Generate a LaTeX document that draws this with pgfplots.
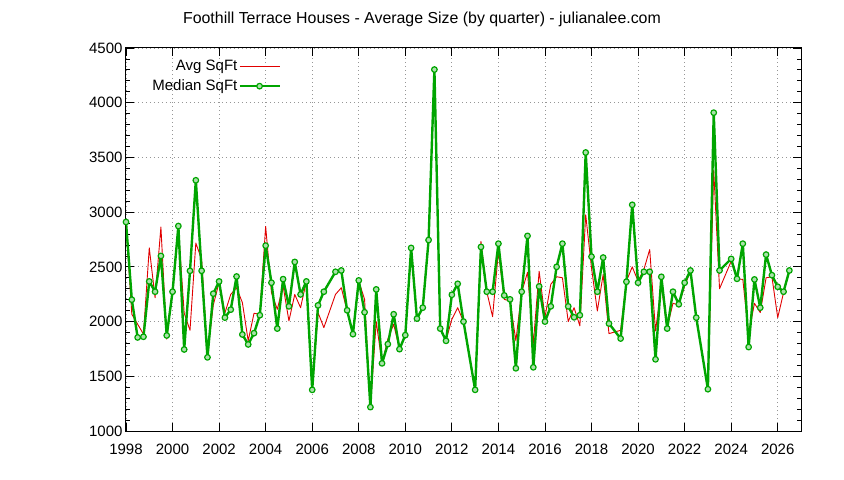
\documentclass[border=0pt]{standalone}
\usepackage{fontspec}
\setmainfont{Liberation Sans}
\usepackage{pgfplots}
\pgfplotsset{compat=1.18}
\usepackage{pgfplotstable}
\definecolor{avgred}{RGB}{225,0,0}
\definecolor{medgreen}{RGB}{0,165,0}
\definecolor{medfill}{RGB}{170,225,170}
\definecolor{gridgray}{RGB}{150,150,150}

\pgfplotstableread{
t avg med
1998.00 2910 2910
1998.25 2067 2200
1998.50 1976 1855
1998.75 1885 1861
1999.00 2673 2367
1999.25 2218 2273
1999.50 2864 2600
1999.75 1840 1873
2000.00 2280 2273
2000.25 2850 2873
2000.50 2078 1745
2000.75 1920 2464
2001.00 2718 3291
2001.25 2567 2464
2001.50 1700 1673
2001.75 2150 2255
2002.00 2360 2367
2002.25 2080 2036
2002.50 2248 2109
2002.75 2309 2412
2003.00 2173 1882
2003.25 1824 1791
2003.50 2076 1894
2003.75 2067 2058
2004.00 2870 2694
2004.25 2264 2355
2004.50 2112 1936
2004.75 2324 2388
2005.00 2006 2139
2005.25 2248 2545
2005.50 2127 2248
2005.75 2370 2367
2006.00 1376 1376
2006.25 2082 2148
2006.50 1945 2273
2007.00 2248 2455
2007.25 2309 2467
2007.50 2097 2103
2007.75 1900 1885
2008.00 2370 2376
2008.25 2203 2085
2008.50 1218 1218
2008.75 2000 2294
2009.00 1618 1618
2009.25 1840 1794
2009.50 1976 2067
2009.75 1748 1748
2010.00 1876 1876
2010.25 2650 2673
2010.50 2027 2027
2010.75 2127 2127
2011.00 2745 2745
2011.25 4303 4303
2011.50 1936 1936
2011.75 1830 1824
2012.00 2021 2245
2012.25 2127 2345
2012.50 2000 2000
2013.00 1376 1376
2013.25 2733 2682
2013.50 2273 2273
2013.75 2045 2273
2014.00 2642 2712
2014.25 2203 2239
2014.50 2188 2203
2014.75 1824 1573
2015.00 2270 2273
2015.25 2450 2783
2015.50 1800 1582
2015.75 2460 2321
2016.00 2040 2000
2016.25 2340 2139
2016.50 2410 2500
2016.75 2400 2712
2017.00 2000 2139
2017.25 2127 2039
2017.50 1961 2058
2017.75 2976 3545
2018.00 2490 2593
2018.25 2097 2273
2018.50 2430 2585
2018.75 1890 1982
2019.25 1920 1845
2019.50 2370 2364
2019.75 2500 3067
2020.00 2370 2355
2020.25 2476 2455
2020.50 2658 2455
2020.75 1915 1655
2021.00 2324 2409
2021.25 1945 1936
2021.50 2167 2273
2021.75 2152 2158
2022.00 2324 2355
2022.25 2460 2467
2022.50 2036 2036
2023.00 1382 1382
2023.25 3385 3909
2023.50 2300 2467
2024.00 2551 2573
2024.25 2391 2391
2024.50 2385 2712
2024.75 1885 1767
2025.00 2167 2385
2025.25 2082 2127
2025.50 2400 2612
2025.75 2410 2424
2026.00 2036 2318
2026.25 2264 2273
2026.50 2467 2467
}\data

\begin{document}
\begin{tikzpicture}
\path[use as bounding box] (-126bp,-49bp) rectangle (718bp,431bp);
\begin{axis}[
  at={(0,0)}, anchor=south west,
  scale only axis, width=675bp, height=383bp,
  xmin=1998, xmax=2027, ymin=1000, ymax=4500,
  xtick={1998,2000,...,2026}, minor x tick num=1,
  ytick={1000,1500,...,4500}, minor y tick num=4,
  /pgf/number format/set thousands separator={},
  /pgf/number format/assume math mode=true,
  tick label style={font=\fontsize{15bp}{18bp}\selectfont},
  xticklabel style={yshift=-10bp},
  tick align=inside, tick pos=both,
  major tick length=8bp, minor tick length=4bp,
  every tick/.style={black, line width=0.8bp},
  axis line style={black, line width=1bp},
  xmajorgrids, xminorgrids, ymajorgrids,
  major grid style={gridgray, line width=0.8bp, dash pattern=on 1bp off 3bp},
  minor grid style={gridgray, line width=0.8bp, dash pattern=on 1bp off 3bp},
  legend plot pos=right, legend cell align=right,
  legend style={at={(axis description cs:0.2296,0.974)}, anchor=north east,
    draw=none, fill=none, inner sep=0pt, row sep=4bp,
    font=\fontsize{15bp}{18bp}\selectfont,
    nodes={inner sep=1bp, text height=11bp, text depth=3bp}},
  legend image code/.code={
    \draw[mark repeat=2, mark phase=2, #1] plot coordinates {(8bp,0bp) (28bp,0bp) (48bp,0bp)};
  },
]
\addplot[avgred, line width=0.9bp, mark=none, line join=round] table[x=t, y=avg] {\data};
\addlegendentry{Avg SqFt}
\addplot[medgreen, line width=2.4bp, line join=round, mark=*, mark size=2.8bp,
  mark options={fill=medfill, draw=medgreen, line width=1.2bp}] table[x=t, y=med] {\data};
\addlegendentry{Median SqFt}
\end{axis}
\node[font=\fontsize{15.9bp}{19bp}\selectfont] at (296bp,412bp) {Foothill Terrace Houses - Average Size (by quarter) - julianalee.com};
\end{tikzpicture}
\end{document}
